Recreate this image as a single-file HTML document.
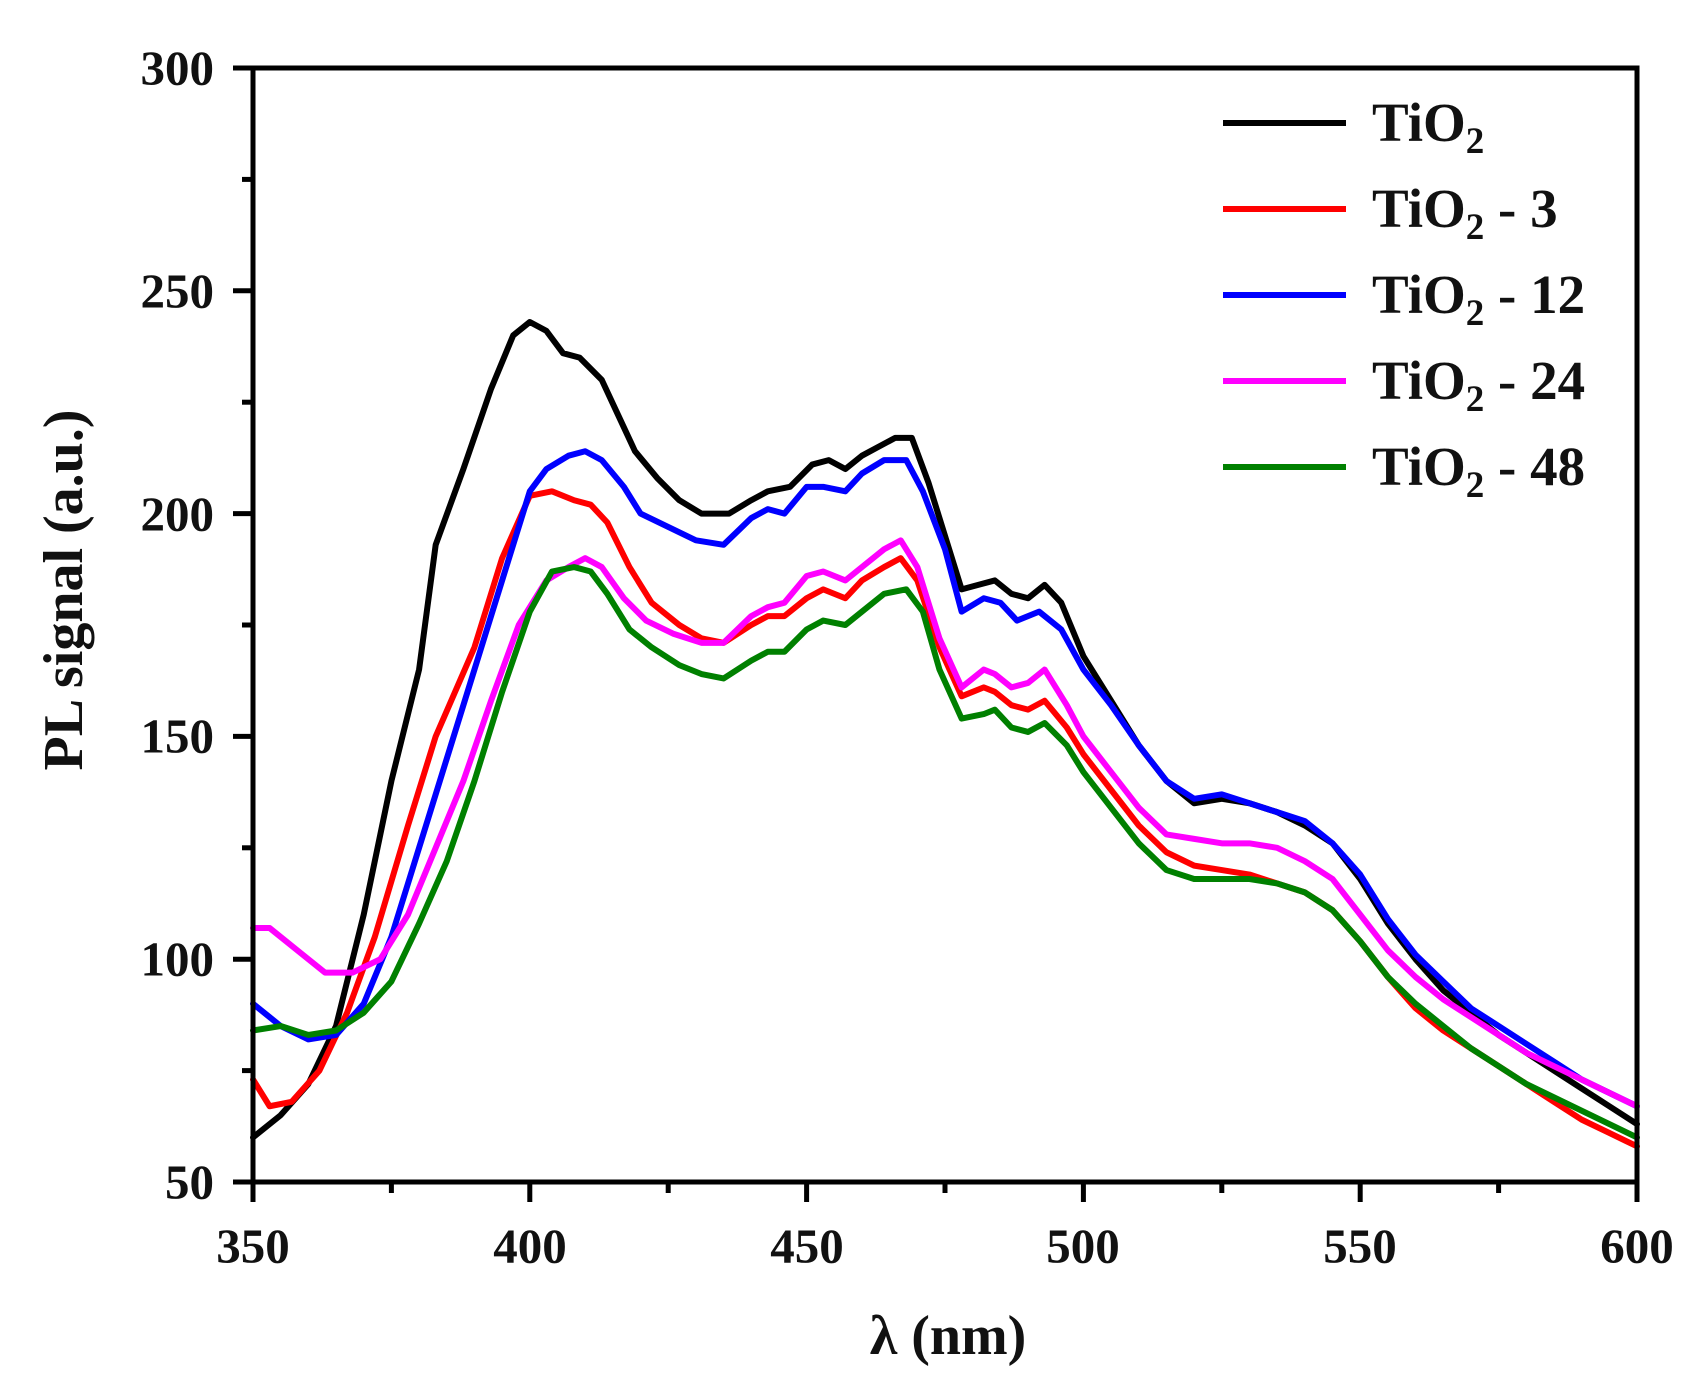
<!DOCTYPE html>
<html><head><meta charset="utf-8"><style>
html,body{margin:0;padding:0;background:#fff;}
svg{display:block;}
text{font-family:"Liberation Serif",serif;font-weight:bold;fill:#111;}
</style></head><body>
<svg width="1702" height="1386" viewBox="0 0 1702 1386" xmlns="http://www.w3.org/2000/svg">
<g fill="none" stroke-width="6" stroke-linejoin="round" stroke-linecap="round">
<g transform="matrix(5.536 0 0 -4.456 -1684.6 1404.8)">
<polyline vector-effect="non-scaling-stroke" stroke="#000" points="350,60 355,65 360,72 365,85 370,110 375,140 380,165 383,193 388,210 393,228 397,240 400,243 403,241 406,236 409,235 413,230 416,222 419,214 423,208 427,203 431,200 436,200 440,203 443,205 447,206 451,211 454,212 457,210 460,213 463,215 466,217 469,217 472,207 475,195 478,183 481,184 484,185 487,182 490,181 493,184 496,180 500,168 505,158 510,148 515,140 520,135 525,136 530,135 535,133 540,130 545,126 550,118 555,108 560,100 565,93 570,88 575,83 580,79 585,75 590,71 595,67 600,63"/>
<polyline vector-effect="non-scaling-stroke" stroke="#f00" points="350,73 353,67 357,68 362,75 367,88 372,105 378,130 383,150 390,170 395,190 400,204 404,205 408,203 411,202 414,198 418,188 422,180 427,175 431,172 435,171 440,175 443,177 446,177 450,181 453,183 457,181 460,185 464,188 467,190 470,185 474,170 478,159 482,161 484,160 487,157 490,156 493,158 497,152 500,146 505,138 510,130 515,124 520,121 525,120 530,119 535,117 540,115 545,111 550,104 555,96 560,89 565,84 570,80 575,76 580,72 585,68 590,64 595,61 600,58"/>
<polyline vector-effect="non-scaling-stroke" stroke="#00f" points="350,90 355,85 360,82 365,83 370,90 375,105 380,125 385,145 390,165 395,185 400,205 403,210 407,213 410,214 413,212 417,206 420,200 425,197 430,194 435,193 440,199 443,201 446,200 450,206 453,206 457,205 460,209 464,212 468,212 471,205 475,192 478,178 482,181 485,180 488,176 492,178 496,174 500,165 505,157 510,148 515,140 520,136 525,137 530,135 535,133 540,131 545,126 550,119 555,109 560,101 565,95 570,89 575,85 580,81 585,77 590,73 595,70 600,67"/>
<polyline vector-effect="non-scaling-stroke" stroke="#f0f" points="350,107 353,107 358,102 363,97 368,97 373,100 378,110 383,125 388,140 393,158 398,175 403,185 407,188 410,190 413,188 417,181 421,176 426,173 431,171 435,171 440,177 443,179 446,180 450,186 453,187 457,185 460,188 464,192 467,194 470,188 474,172 478,161 482,165 484,164 487,161 490,162 493,165 497,157 500,150 505,142 510,134 515,128 520,127 525,126 530,126 535,125 540,122 545,118 550,110 555,102 560,96 565,91 570,87 575,83 580,79 585,76 590,73 595,70 600,67"/>
<polyline vector-effect="non-scaling-stroke" stroke="#008000" points="350,84 355,85 360,83 365,84 370,88 375,95 380,108 385,122 390,140 395,160 400,178 404,187 408,188 411,187 414,182 418,174 422,170 427,166 431,164 435,163 440,167 443,169 446,169 450,174 453,176 457,175 460,178 464,182 468,183 471,178 474,165 478,154 482,155 484,156 487,152 490,151 493,153 497,148 500,142 505,134 510,126 515,120 520,118 525,118 530,118 535,117 540,115 545,111 550,104 555,96 560,90 565,85 570,80 575,76 580,72 585,69 590,66 595,63 600,60"/>
</g>
</g>
<rect x="253" y="68" width="1384" height="1114" fill="none" stroke="#000" stroke-width="5"/>
<g stroke="#000" stroke-width="5">
<line x1="253" y1="1182" x2="253" y2="1202"/><line x1="529.8" y1="1182" x2="529.8" y2="1202"/><line x1="806.6" y1="1182" x2="806.6" y2="1202"/><line x1="1083.4" y1="1182" x2="1083.4" y2="1202"/><line x1="1360.2" y1="1182" x2="1360.2" y2="1202"/><line x1="1637" y1="1182" x2="1637" y2="1202"/>
<line x1="391.4" y1="1182" x2="391.4" y2="1193"/><line x1="668.2" y1="1182" x2="668.2" y2="1193"/><line x1="945" y1="1182" x2="945" y2="1193"/><line x1="1221.8" y1="1182" x2="1221.8" y2="1193"/><line x1="1498.6" y1="1182" x2="1498.6" y2="1193"/>
<line x1="233" y1="68" x2="253" y2="68"/><line x1="233" y1="290.8" x2="253" y2="290.8"/><line x1="233" y1="513.6" x2="253" y2="513.6"/><line x1="233" y1="736.4" x2="253" y2="736.4"/><line x1="233" y1="959.2" x2="253" y2="959.2"/><line x1="233" y1="1182" x2="253" y2="1182"/>
<line x1="242" y1="179.4" x2="253" y2="179.4"/><line x1="242" y1="402.2" x2="253" y2="402.2"/><line x1="242" y1="625" x2="253" y2="625"/><line x1="242" y1="847.8" x2="253" y2="847.8"/><line x1="242" y1="1070.6" x2="253" y2="1070.6"/>
</g>
<g font-size="49" text-anchor="end" dominant-baseline="central">
<text x="214" y="68">300</text><text x="214" y="291">250</text><text x="214" y="514">200</text><text x="214" y="736">150</text><text x="214" y="959">100</text><text x="214" y="1182">50</text>
</g>
<g font-size="49" text-anchor="middle" dominant-baseline="central">
<text x="253" y="1246">350</text><text x="530" y="1246">400</text><text x="807" y="1246">450</text><text x="1083" y="1246">500</text><text x="1360" y="1246">550</text><text x="1637" y="1246">600</text>
</g>
<text x="948" y="1336" font-size="56" text-anchor="middle" dominant-baseline="central">λ (nm)</text>
<text transform="translate(64,590) rotate(-90)" font-size="56" text-anchor="middle" dominant-baseline="central">PL signal (a.u.)</text>
<g stroke-width="6">
<line x1="1223" y1="123" x2="1346" y2="123" stroke="#000"/>
<line x1="1223" y1="209" x2="1346" y2="209" stroke="#f00"/>
<line x1="1223" y1="295" x2="1346" y2="295" stroke="#00f"/>
<line x1="1223" y1="381" x2="1346" y2="381" stroke="#f0f"/>
<line x1="1223" y1="467" x2="1346" y2="467" stroke="#008000"/>
</g>
<g font-size="55">
<text x="1372" y="141">TiO<tspan font-size="37" dy="12">2</tspan></text>
<text x="1372" y="227">TiO<tspan font-size="37" dy="12">2</tspan><tspan dy="-12"> - 3</tspan></text>
<text x="1372" y="313">TiO<tspan font-size="37" dy="12">2</tspan><tspan dy="-12"> - 12</tspan></text>
<text x="1372" y="399">TiO<tspan font-size="37" dy="12">2</tspan><tspan dy="-12"> - 24</tspan></text>
<text x="1372" y="485">TiO<tspan font-size="37" dy="12">2</tspan><tspan dy="-12"> - 48</tspan></text>
</g>
</svg>
</body></html>
